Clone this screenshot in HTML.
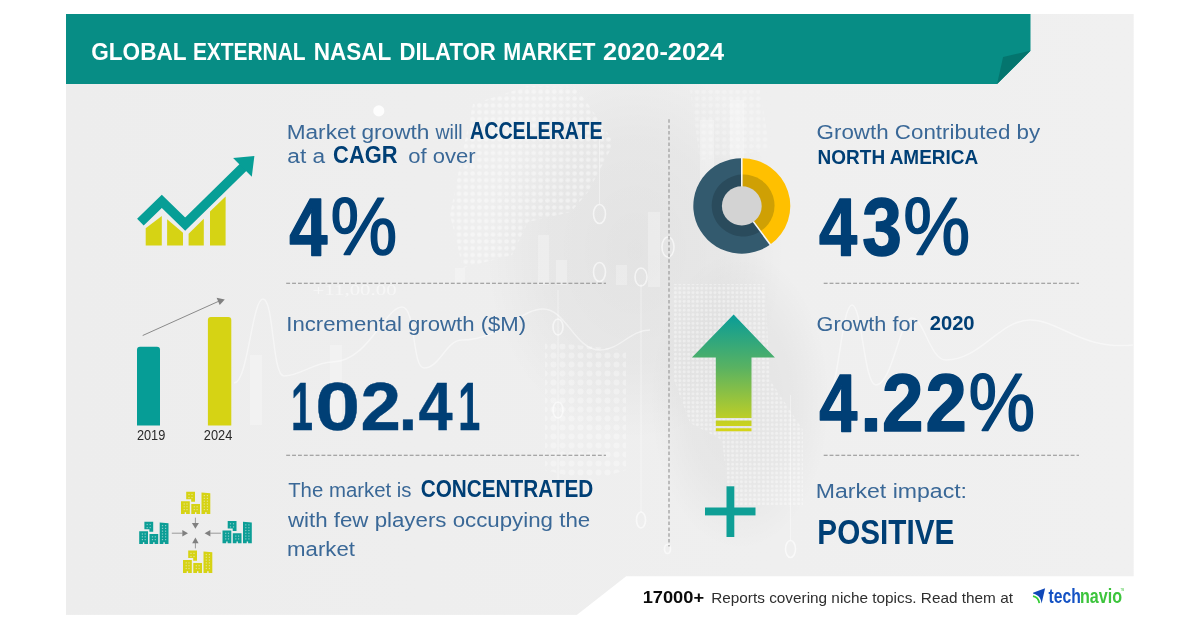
<!DOCTYPE html>
<html lang="en">
<head>
<meta charset="utf-8">
<title>Global External Nasal Dilator Market 2020-2024</title>
<style>
  html, body { margin: 0; padding: 0; background: #ffffff; }
  body { width: 1200px; height: 627px; overflow: hidden; position: relative; }
  svg { position: absolute; left: 0; top: 0; display: block; }
  text { font-family: "Liberation Sans", sans-serif; }
  .b { font-weight: bold; fill: #0b3d78; }
  .l { font-weight: normal; fill: #2f5f8f; }
</style>
</head>
<body>
<svg width="1200" height="627" viewBox="0 0 1200 627">
  <defs>
    <linearGradient id="arrowGrad" x1="0" y1="0" x2="0" y2="1">
      <stop offset="0" stop-color="#089c98"/>
      <stop offset="0.45" stop-color="#58b262"/>
      <stop offset="1" stop-color="#d6d518"/>
    </linearGradient>
    <radialGradient id="shade1" cx="0.5" cy="0.5" r="0.5">
      <stop offset="0" stop-color="#000000" stop-opacity="0.05"/>
      <stop offset="0.6" stop-color="#000000" stop-opacity="0.032"/>
      <stop offset="1" stop-color="#000000" stop-opacity="0"/>
    </radialGradient>
    <pattern id="dots" x="0" y="0" width="6.8" height="6.8" patternUnits="userSpaceOnUse">
      <circle cx="3.4" cy="3.4" r="2.3" fill="#ffffff"/>
    </pattern>
    <pattern id="dots3" x="0" y="0" width="4.4" height="4.4" patternUnits="userSpaceOnUse">
      <circle cx="2.2" cy="2.2" r="1.5" fill="#ffffff"/>
    </pattern>
    <pattern id="dots2" x="0" y="0" width="9" height="9" patternUnits="userSpaceOnUse">
      <circle cx="4.5" cy="4.5" r="3" fill="#ffffff"/>
    </pattern>
    <clipPath id="panelClip"><rect x="66" y="14" width="1067.7" height="600.9"/></clipPath>
    <linearGradient id="panelGrad" x1="0" y1="0" x2="1" y2="0">
      <stop offset="0" stop-color="#ededed"/>
      <stop offset="1" stop-color="#f0f0f0"/>
    </linearGradient>
  </defs>

  <!-- panel background -->
  <rect x="66" y="14" width="1067.7" height="600.9" fill="url(#panelGrad)"/>
  <g clip-path="url(#panelClip)" id="bgdeco">
    <ellipse cx="635" cy="250" rx="150" ry="190" fill="url(#shade1)"/>
    <ellipse cx="740" cy="400" rx="90" ry="150" fill="url(#shade1)"/>
    <!-- dotted map patches -->
    <polygon points="473,104 528,86 575,87 588,104 614,143 588,192 571,212 528,222 512,255 463,268 450,215 463,150" fill="url(#dots)" opacity="0.42"/>
    <polygon points="674,284 765,284 770,380 803,430 803,505 730,505 722,440 690,423 674,380" fill="url(#dots3)" opacity="0.4"/>
    <polygon points="545,342 626,350 626,470 590,481 545,470" fill="url(#dots2)" opacity="0.3"/>
    <polygon points="690,90 760,90 770,150 700,160" fill="url(#dots)" opacity="0.25"/>
    <!-- faint bars -->
    <g fill="#ffffff" opacity="0.28">
      <rect x="538" y="235" width="11" height="50"/>
      <rect x="556" y="260" width="11" height="25"/>
      <rect x="616" y="265" width="11" height="20"/>
      <rect x="648" y="212" width="12" height="75"/>
      <rect x="455" y="268" width="10" height="16"/>
      <rect x="250" y="355" width="12" height="70"/>
      <rect x="330" y="345" width="12" height="80"/>
      <rect x="700" y="120" width="14" height="90"/>
      <rect x="730" y="100" width="14" height="60"/>
    </g>
    <!-- faint curves -->
    <g fill="none" stroke="#ffffff" stroke-width="1.5" opacity="0.45">
      <path d="M234,383 C248,383 252,299 263,299 C274,299 272,376 284,376 C300,376 315,362 332,362 C368,362 385,307 402,307 C416,307 412,368 424,368 C440,368 446,340 462,340 C500,340 520,309 543,309 C566,309 575,350 600,350 C620,350 630,330 650,330"/>
      <path d="M830,390 C838,390 842,305 852,305 C862,305 864,385 876,385 C892,385 900,318 912,318 C924,318 930,360 946,360 C980,360 1000,320 1030,320 C1060,320 1080,350 1133,345"/>
    </g>
    <g stroke="#ffffff" stroke-width="1" opacity="0.4">
      <line x1="790.5" y1="395" x2="790.5" y2="540"/>
      <line x1="641" y1="284" x2="641" y2="512"/>
      <line x1="599.5" y1="120" x2="599.5" y2="204"/>
      <line x1="558" y1="290" x2="558" y2="480"/>
    </g>
    <!-- ring markers -->
    <g fill="none" stroke="#ffffff" stroke-width="1.6" opacity="0.6">
      <ellipse cx="599.5" cy="214" rx="6" ry="9.5"/>
      <ellipse cx="599.5" cy="272" rx="6" ry="9.5"/>
      <ellipse cx="668" cy="247" rx="6" ry="10"/>
      <ellipse cx="641" cy="277" rx="6" ry="9"/>
      <ellipse cx="790.5" cy="549" rx="5" ry="8.5"/>
      <ellipse cx="667.5" cy="549" rx="3" ry="4.5"/>
      <ellipse cx="641" cy="520" rx="4.5" ry="8"/>
      <ellipse cx="558" cy="327" rx="5" ry="8"/>
      <ellipse cx="558" cy="410" rx="5" ry="8"/>
    </g>
    <text x="312.6" y="294.5" style="font-family:'Liberation Serif',serif" font-size="15" fill="#ffffff" opacity="0.5" textLength="84" lengthAdjust="spacingAndGlyphs">+11,00.00</text>
    <circle cx="378.8" cy="110.9" r="5.6" fill="#ffffff" opacity="0.85"/>
  </g>

  <!-- footer white cut -->
  <polygon points="626.2,576.3 1135,576.3 1135,617 574.2,617" fill="#ffffff"/>

  <!-- banner -->
  <polygon points="66,14 1030.5,14 1030.5,50.7 997.1,84 66,84" fill="#078d85"/>
  <polygon points="1030.5,50.7 1003.1,57.1 997.1,84" fill="#04756e"/>

  <!-- dividers -->
  <g fill="none">
    <line x1="669" y1="119.3" x2="669" y2="546.5" stroke="#a6a6a6" stroke-width="1.4" stroke-dasharray="3.5 2.33"/>
    <g stroke="#8e8e8e" stroke-width="1.1" stroke-dasharray="3.9 1.98">
      <line x1="286.2" y1="283.3" x2="606" y2="283.3"/>
      <line x1="286.2" y1="455.3" x2="606" y2="455.3"/>
      <line x1="823.7" y1="283.3" x2="1079" y2="283.3"/>
      <line x1="823.7" y1="455.3" x2="1079" y2="455.3"/>
    </g>
  </g>

  <!-- ICON 1: growth chart -->
  <g id="icon1">
    <g fill="#d6d314">
      <polygon points="145.7,245.6 145.7,228.2 161.8,216 161.8,245.6"/>
      <polygon points="167.1,245.6 167.1,219.3 183,232.7 183,245.6"/>
      <polygon points="188.6,245.6 188.6,233.8 203.8,218.8 203.8,245.6"/>
      <polygon points="210,245.6 210,211.5 225.6,196.5 225.6,245.6"/>
    </g>
    <polyline points="140.4,222.2 161.8,201.4 185.2,224.2 244.5,166" fill="none" stroke="#079e96" stroke-width="9.5" stroke-linejoin="miter"/>
    <polygon points="233.1,158 254.4,156 251.8,176.7" fill="#079e96"/>
  </g>

  <!-- ICON 2: bars 2019/2024 -->
  <g id="icon2">
    <path d="M137,425.4 V349.7 a3,3 0 0 1 3,-3 h17 a3,3 0 0 1 3,3 V425.4 Z" fill="#069d96"/>
    <path d="M207.9,425.4 V319.9 a3,3 0 0 1 3,-3 h17.4 a3,3 0 0 1 3,3 V425.4 Z" fill="#d6d314"/>
    <line x1="142.7" y1="335.5" x2="219.7" y2="300.8" stroke="#8a8a8a" stroke-width="1"/>
    <polygon points="216.6,297.8 224.8,299.5 219.7,304.9" fill="#808080"/>
  </g>

  <!-- ICON 3: buildings -->
  <g id="icon3">
<g transform="translate(181,491.7)">
  <g fill="#d6d314">
    <polygon points="5.2,0 14,0 14,10.1 10.2,10.1 10.2,7.5 5.2,7.5"/>
    <path d="M0,9.5 H8.8 V22.3 H5.1 V20.6 H3.7 V22.3 H0 Z"/>
    <path d="M10.3,12.3 H19 V22.3 H15.4 V20.6 H14 V22.3 H10.3 Z"/>
    <path d="M20.5,0.8 L29.3,1.6 V22.3 H25.6 V20.6 H24.2 V22.3 H20.5 Z"/>
  </g>
  <g fill="#f4f4f4" fill-opacity="0.55">
    <rect x="7.4" y="2.2" width="1.2" height="1.2"/><rect x="7.4" y="5.3" width="1.2" height="1.2"/><rect x="10.4" y="2.2" width="1.2" height="1.2"/><rect x="10.4" y="5.3" width="1.2" height="1.2"/>
    <rect x="2.6" y="11.7" width="1.2" height="1.2"/><rect x="2.6" y="14.5" width="1.2" height="1.2"/><rect x="2.6" y="17.3" width="1.2" height="1.2"/><rect x="5.4" y="11.7" width="1.2" height="1.2"/><rect x="5.4" y="14.5" width="1.2" height="1.2"/><rect x="5.4" y="17.3" width="1.2" height="1.2"/>
    <rect x="12.7" y="14.5" width="1.2" height="1.2"/><rect x="12.7" y="17.3" width="1.2" height="1.2"/><rect x="15.5" y="14.5" width="1.2" height="1.2"/><rect x="15.5" y="17.3" width="1.2" height="1.2"/>
    <rect x="22.7" y="3.3" width="1.2" height="1.2"/><rect x="22.7" y="6.1" width="1.2" height="1.2"/><rect x="22.7" y="8.9" width="1.2" height="1.2"/><rect x="22.7" y="11.7" width="1.2" height="1.2"/><rect x="22.7" y="14.5" width="1.2" height="1.2"/><rect x="22.7" y="17.3" width="1.2" height="1.2"/><rect x="25.8" y="3.3" width="1.2" height="1.2"/><rect x="25.8" y="6.1" width="1.2" height="1.2"/><rect x="25.8" y="8.9" width="1.2" height="1.2"/><rect x="25.8" y="11.7" width="1.2" height="1.2"/><rect x="25.8" y="14.5" width="1.2" height="1.2"/><rect x="25.8" y="17.3" width="1.2" height="1.2"/>
  </g>
</g>
<g transform="translate(139.2,521.7)">
  <g fill="#0c9e96">
    <polygon points="5.2,0 14,0 14,10.1 10.2,10.1 10.2,7.5 5.2,7.5"/>
    <path d="M0,9.5 H8.8 V22.3 H5.1 V20.6 H3.7 V22.3 H0 Z"/>
    <path d="M10.3,12.3 H19 V22.3 H15.4 V20.6 H14 V22.3 H10.3 Z"/>
    <path d="M20.5,0.8 L29.3,1.6 V22.3 H25.6 V20.6 H24.2 V22.3 H20.5 Z"/>
  </g>
  <g fill="#f4f4f4" fill-opacity="0.55">
    <rect x="7.4" y="2.2" width="1.2" height="1.2"/><rect x="7.4" y="5.3" width="1.2" height="1.2"/><rect x="10.4" y="2.2" width="1.2" height="1.2"/><rect x="10.4" y="5.3" width="1.2" height="1.2"/>
    <rect x="2.6" y="11.7" width="1.2" height="1.2"/><rect x="2.6" y="14.5" width="1.2" height="1.2"/><rect x="2.6" y="17.3" width="1.2" height="1.2"/><rect x="5.4" y="11.7" width="1.2" height="1.2"/><rect x="5.4" y="14.5" width="1.2" height="1.2"/><rect x="5.4" y="17.3" width="1.2" height="1.2"/>
    <rect x="12.7" y="14.5" width="1.2" height="1.2"/><rect x="12.7" y="17.3" width="1.2" height="1.2"/><rect x="15.5" y="14.5" width="1.2" height="1.2"/><rect x="15.5" y="17.3" width="1.2" height="1.2"/>
    <rect x="22.7" y="3.3" width="1.2" height="1.2"/><rect x="22.7" y="6.1" width="1.2" height="1.2"/><rect x="22.7" y="8.9" width="1.2" height="1.2"/><rect x="22.7" y="11.7" width="1.2" height="1.2"/><rect x="22.7" y="14.5" width="1.2" height="1.2"/><rect x="22.7" y="17.3" width="1.2" height="1.2"/><rect x="25.8" y="3.3" width="1.2" height="1.2"/><rect x="25.8" y="6.1" width="1.2" height="1.2"/><rect x="25.8" y="8.9" width="1.2" height="1.2"/><rect x="25.8" y="11.7" width="1.2" height="1.2"/><rect x="25.8" y="14.5" width="1.2" height="1.2"/><rect x="25.8" y="17.3" width="1.2" height="1.2"/>
  </g>
</g>
<g transform="translate(222.5,521)">
  <g fill="#0c9e96">
    <polygon points="5.2,0 14,0 14,10.1 10.2,10.1 10.2,7.5 5.2,7.5"/>
    <path d="M0,9.5 H8.8 V22.3 H5.1 V20.6 H3.7 V22.3 H0 Z"/>
    <path d="M10.3,12.3 H19 V22.3 H15.4 V20.6 H14 V22.3 H10.3 Z"/>
    <path d="M20.5,0.8 L29.3,1.6 V22.3 H25.6 V20.6 H24.2 V22.3 H20.5 Z"/>
  </g>
  <g fill="#f4f4f4" fill-opacity="0.55">
    <rect x="7.4" y="2.2" width="1.2" height="1.2"/><rect x="7.4" y="5.3" width="1.2" height="1.2"/><rect x="10.4" y="2.2" width="1.2" height="1.2"/><rect x="10.4" y="5.3" width="1.2" height="1.2"/>
    <rect x="2.6" y="11.7" width="1.2" height="1.2"/><rect x="2.6" y="14.5" width="1.2" height="1.2"/><rect x="2.6" y="17.3" width="1.2" height="1.2"/><rect x="5.4" y="11.7" width="1.2" height="1.2"/><rect x="5.4" y="14.5" width="1.2" height="1.2"/><rect x="5.4" y="17.3" width="1.2" height="1.2"/>
    <rect x="12.7" y="14.5" width="1.2" height="1.2"/><rect x="12.7" y="17.3" width="1.2" height="1.2"/><rect x="15.5" y="14.5" width="1.2" height="1.2"/><rect x="15.5" y="17.3" width="1.2" height="1.2"/>
    <rect x="22.7" y="3.3" width="1.2" height="1.2"/><rect x="22.7" y="6.1" width="1.2" height="1.2"/><rect x="22.7" y="8.9" width="1.2" height="1.2"/><rect x="22.7" y="11.7" width="1.2" height="1.2"/><rect x="22.7" y="14.5" width="1.2" height="1.2"/><rect x="22.7" y="17.3" width="1.2" height="1.2"/><rect x="25.8" y="3.3" width="1.2" height="1.2"/><rect x="25.8" y="6.1" width="1.2" height="1.2"/><rect x="25.8" y="8.9" width="1.2" height="1.2"/><rect x="25.8" y="11.7" width="1.2" height="1.2"/><rect x="25.8" y="14.5" width="1.2" height="1.2"/><rect x="25.8" y="17.3" width="1.2" height="1.2"/>
  </g>
</g>
<g transform="translate(183,550.6)">
  <g fill="#d6d314">
    <polygon points="5.2,0 14,0 14,10.1 10.2,10.1 10.2,7.5 5.2,7.5"/>
    <path d="M0,9.5 H8.8 V22.3 H5.1 V20.6 H3.7 V22.3 H0 Z"/>
    <path d="M10.3,12.3 H19 V22.3 H15.4 V20.6 H14 V22.3 H10.3 Z"/>
    <path d="M20.5,0.8 L29.3,1.6 V22.3 H25.6 V20.6 H24.2 V22.3 H20.5 Z"/>
  </g>
  <g fill="#f4f4f4" fill-opacity="0.55">
    <rect x="7.4" y="2.2" width="1.2" height="1.2"/><rect x="7.4" y="5.3" width="1.2" height="1.2"/><rect x="10.4" y="2.2" width="1.2" height="1.2"/><rect x="10.4" y="5.3" width="1.2" height="1.2"/>
    <rect x="2.6" y="11.7" width="1.2" height="1.2"/><rect x="2.6" y="14.5" width="1.2" height="1.2"/><rect x="2.6" y="17.3" width="1.2" height="1.2"/><rect x="5.4" y="11.7" width="1.2" height="1.2"/><rect x="5.4" y="14.5" width="1.2" height="1.2"/><rect x="5.4" y="17.3" width="1.2" height="1.2"/>
    <rect x="12.7" y="14.5" width="1.2" height="1.2"/><rect x="12.7" y="17.3" width="1.2" height="1.2"/><rect x="15.5" y="14.5" width="1.2" height="1.2"/><rect x="15.5" y="17.3" width="1.2" height="1.2"/>
    <rect x="22.7" y="3.3" width="1.2" height="1.2"/><rect x="22.7" y="6.1" width="1.2" height="1.2"/><rect x="22.7" y="8.9" width="1.2" height="1.2"/><rect x="22.7" y="11.7" width="1.2" height="1.2"/><rect x="22.7" y="14.5" width="1.2" height="1.2"/><rect x="22.7" y="17.3" width="1.2" height="1.2"/><rect x="25.8" y="3.3" width="1.2" height="1.2"/><rect x="25.8" y="6.1" width="1.2" height="1.2"/><rect x="25.8" y="8.9" width="1.2" height="1.2"/><rect x="25.8" y="11.7" width="1.2" height="1.2"/><rect x="25.8" y="14.5" width="1.2" height="1.2"/><rect x="25.8" y="17.3" width="1.2" height="1.2"/>
  </g>
</g>
<g stroke="#909090" stroke-width="0.9" fill="none">
  <line x1="195.4" y1="517.7" x2="195.4" y2="524"/>
  <line x1="195.4" y1="543" x2="195.4" y2="548.4"/>
  <line x1="171.8" y1="533.2" x2="182.5" y2="533.2"/>
  <line x1="210.2" y1="533.2" x2="220.9" y2="533.2"/>
</g>
<g fill="#808080">
  <polygon points="191.9,523 198.9,523 195.4,528.8"/>
  <polygon points="192.2,543.2 198.6,543.2 195.4,537.5"/>
  <polygon points="182.3,530 182.3,536.5 188,533.2"/>
  <polygon points="210.4,530 210.4,536.5 204.6,533.2"/>
</g>
</g>

  <!-- ICON 4: donut -->
  <g id="icon4" transform="translate(0,205.9) scale(1,0.985) translate(0,-205.9)">
<path d="M741.8,205.9 L741.80,157.40 A48.5,48.5 0 0 1 770.31,245.14 Z" fill="#ffc000"/>
<path d="M741.8,205.9 L770.31,245.14 A48.5,48.5 0 1 1 741.80,157.40 Z" fill="#335a6e"/>
<path d="M741.8,205.9 L741.80,174.10 A31.4,31.4 0 0 1 760.49,231.63 Z" fill="#cfa004"/>
<path d="M741.8,205.9 L760.49,231.63 A31.4,31.4 0 1 1 741.80,174.10 Z" fill="#2a4b5c"/>
<path d="M741.80,156.90 L741.8,205.9 L770.60,245.54" stroke="#f6f6f6" stroke-width="1.6" fill="none"/>
<circle cx="741.8" cy="205.9" r="19.9" fill="#d3d3d3"/>
</g>

  <!-- ICON 5: arrow up -->
  <g id="icon5">
    <path d="M733.6,314.5 L774.9,357.6 H751.5 V417.9 H715.8 V357.6 H691.9 Z M715.8,420.5 H751.5 V426.1 H715.8 Z M715.8,428.3 H751.5 V431.3 H715.8 Z" fill="url(#arrowGrad)"/>
  </g>

  <!-- ICON 6: plus -->
  <g id="icon6" fill="#0f9f96">
    <rect x="705" y="507.5" width="50.5" height="7.9"/>
    <rect x="726.5" y="486.3" width="7.8" height="50.7"/>
  </g>

  <!-- TEXT -->
  <text><tspan x="91.19" y="60" font-size="24.3" font-weight="bold" fill="#ffffff" textLength="95.39" lengthAdjust="spacingAndGlyphs">GLOBAL</tspan> <tspan x="192.89" y="60" font-size="24.3" font-weight="bold" fill="#ffffff" textLength="112.66" lengthAdjust="spacingAndGlyphs">EXTERNAL</tspan> <tspan x="313.69" y="60" font-size="24.3" font-weight="bold" fill="#ffffff" textLength="77.70" lengthAdjust="spacingAndGlyphs">NASAL</tspan> <tspan x="399.42" y="60" font-size="24.3" font-weight="bold" fill="#ffffff" textLength="96.41" lengthAdjust="spacingAndGlyphs">DILATOR</tspan> <tspan x="503.35" y="60" font-size="24.3" font-weight="bold" fill="#ffffff" textLength="92.08" lengthAdjust="spacingAndGlyphs">MARKET</tspan> <tspan x="603.11" y="60" font-size="24.3" font-weight="bold" fill="#ffffff" textLength="121.03" lengthAdjust="spacingAndGlyphs">2020-2024</tspan></text>
  <text><tspan x="286.73" y="139.1" font-size="19.6" fill="#3a6897" textLength="69.09" lengthAdjust="spacingAndGlyphs">Market</tspan> <tspan x="361.49" y="139.1" font-size="19.6" fill="#3a6897" textLength="67.98" lengthAdjust="spacingAndGlyphs">growth</tspan> <tspan x="435.50" y="139.1" font-size="19.6" fill="#3a6897" textLength="27.08" lengthAdjust="spacingAndGlyphs">will</tspan> <tspan x="470.09" y="139.1" font-size="23.3" font-weight="bold" fill="#003f75" textLength="132.52" lengthAdjust="spacingAndGlyphs">ACCELERATE</tspan></text>
  <text><tspan x="287.29" y="163.2" font-size="19.6" fill="#3a6897" textLength="37.87" lengthAdjust="spacingAndGlyphs">at a</tspan> <tspan x="333.12" y="163.2" font-size="23.3" font-weight="bold" fill="#003f75" textLength="64.30" lengthAdjust="spacingAndGlyphs">CAGR</tspan> <tspan x="408.21" y="163.2" font-size="19.6" fill="#3a6897" textLength="67.40" lengthAdjust="spacingAndGlyphs">of over</tspan></text>
  <text><tspan x="286.27" y="330.6" font-size="19.6" fill="#3a6897" textLength="239.87" lengthAdjust="spacingAndGlyphs">Incremental growth ($M)</tspan></text>
  <text><tspan x="288.18" y="497.4" font-size="19.6" fill="#3a6897" textLength="123.35" lengthAdjust="spacingAndGlyphs">The market is</tspan> <tspan x="420.65" y="497.4" font-size="23.3" font-weight="bold" fill="#003f75" textLength="172.57" lengthAdjust="spacingAndGlyphs">CONCENTRATED</tspan></text>
  <text><tspan x="287.95" y="527.4" font-size="19.6" fill="#3a6897" textLength="302.25" lengthAdjust="spacingAndGlyphs">with few players occupying the</tspan></text>
  <text><tspan x="287.11" y="555.8" font-size="19.6" fill="#3a6897" textLength="67.81" lengthAdjust="spacingAndGlyphs">market</tspan></text>
  <text><tspan x="816.55" y="138.9" font-size="19.6" fill="#3a6897" textLength="223.65" lengthAdjust="spacingAndGlyphs">Growth Contributed by</tspan></text>
  <text><tspan x="817.62" y="163.55" font-size="19.75" font-weight="bold" fill="#003f75" textLength="160.64" lengthAdjust="spacingAndGlyphs">NORTH AMERICA</tspan></text>
  <text><tspan x="816.58" y="330.6" font-size="19.6" fill="#3a6897" textLength="101.12" lengthAdjust="spacingAndGlyphs">Growth for</tspan> <tspan x="929.67" y="330.4" font-size="19.9" font-weight="bold" fill="#003f75" textLength="44.95" lengthAdjust="spacingAndGlyphs">2020</tspan></text>
  <text><tspan x="815.80" y="497.7" font-size="19.6" fill="#3a6897" textLength="151.18" lengthAdjust="spacingAndGlyphs">Market impact:</tspan></text>
  <text><tspan x="817.34" y="543.55" font-size="34.2" font-weight="bold" fill="#003f75" textLength="136.94" lengthAdjust="spacingAndGlyphs">POSITIVE</tspan></text>
  <text><tspan x="136.90" y="440" font-size="14.5" fill="#2a2a2a" textLength="28.42" lengthAdjust="spacingAndGlyphs">2019</tspan> <tspan x="203.80" y="440" font-size="14.5" fill="#2a2a2a" textLength="28.52" lengthAdjust="spacingAndGlyphs">2024</tspan></text>
  <text><tspan x="642.66" y="602.8" font-size="16.5" font-weight="bold" fill="#0a0a0a" textLength="61.42" lengthAdjust="spacingAndGlyphs">17000+</tspan> <tspan x="711.20" y="602.6" font-size="14.8" fill="#2e2e2e" textLength="301.75" lengthAdjust="spacingAndGlyphs">Reports covering niche topics. Read them at</tspan> <tspan x="1048.50" y="602.8" font-size="20" font-weight="bold" fill="#1452c4" textLength="32.26" lengthAdjust="spacingAndGlyphs">tech</tspan><tspan x="1079.99" y="602.8" font-size="20" font-weight="bold" fill="#3cc43c" textLength="42.03" lengthAdjust="spacingAndGlyphs">navio</tspan></text>
  <text y="255.05" font-size="81" font-weight="bold" fill="#003f75" stroke="#003f75" stroke-width="1.5" stroke-linejoin="round"><tspan x="289.15" textLength="38.16" lengthAdjust="spacingAndGlyphs">4</tspan><tspan x="330.60" textLength="66.78" lengthAdjust="spacingAndGlyphs" font-weight="normal" stroke-width="1.5">%</tspan></text>
  <text y="430.3" font-size="69" font-weight="bold" fill="#003f75" stroke="#003f75" stroke-width="0.4" stroke-linejoin="round"><tspan x="290.93" textLength="21.95" lengthAdjust="spacingAndGlyphs">1</tspan><tspan x="315.28" textLength="44.78" lengthAdjust="spacingAndGlyphs">0</tspan><tspan x="360.43" textLength="40.38" lengthAdjust="spacingAndGlyphs">2</tspan><tspan x="398.46" textLength="18.85" lengthAdjust="spacingAndGlyphs">.</tspan><tspan x="418.60" textLength="34.11" lengthAdjust="spacingAndGlyphs">4</tspan><tspan x="458.33" textLength="21.95" lengthAdjust="spacingAndGlyphs">1</tspan></text>
  <text y="255.05" font-size="81" font-weight="bold" fill="#003f75" stroke="#003f75" stroke-width="1.5" stroke-linejoin="round"><tspan x="819.00" textLength="38.11" lengthAdjust="spacingAndGlyphs">4</tspan><tspan x="862.14" textLength="39.58" lengthAdjust="spacingAndGlyphs">3</tspan><tspan x="903.20" textLength="67.00" lengthAdjust="spacingAndGlyphs" font-weight="normal" stroke-width="1.5">%</tspan></text>
  <text y="430.85" font-size="81" font-weight="bold" fill="#003f75" stroke="#003f75" stroke-width="1.5" stroke-linejoin="round"><tspan x="819.15" textLength="38.07" lengthAdjust="spacingAndGlyphs">4</tspan><tspan x="860.31" textLength="21.52" lengthAdjust="spacingAndGlyphs">.</tspan><tspan x="882.02" textLength="41.49" lengthAdjust="spacingAndGlyphs">2</tspan><tspan x="925.43" textLength="41.27" lengthAdjust="spacingAndGlyphs">2</tspan><tspan x="968.41" textLength="66.68" lengthAdjust="spacingAndGlyphs" font-weight="normal" stroke-width="1.5">%</tspan></text>
  <g id="logo">
    <path d="M1033,592.7 L1045.1,588.2 L1041.6,603.6 C1041.2,599.5 1039.6,595.2 1033,593.6 Z" fill="#1048b8"/>
    <path d="M1033,596.2 C1037,597 1038.8,599.5 1039.3,603.2" fill="none" stroke="#33cc33" stroke-width="1.7"/>
    <text x="1120.4" y="590.9" font-size="2.6" fill="#3cc43c">TM</text>
  </g>

</svg>
</body>
</html>
